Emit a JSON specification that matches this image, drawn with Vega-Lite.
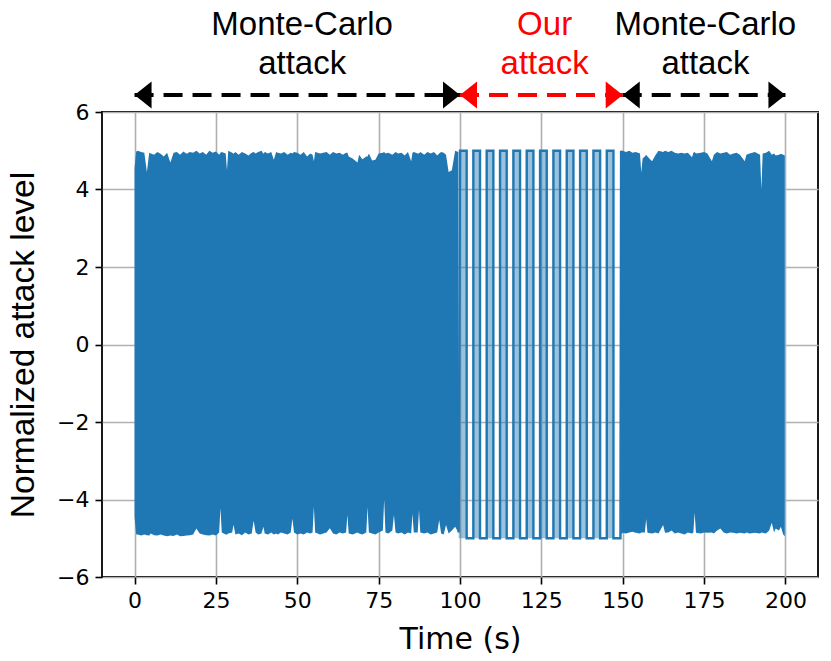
{
  "$schema": "https://vega.github.io/schema/vega-lite/v6.json",
  "width": 716,
  "height": 465,
  "autosize": {"type": "none"},
  "padding": {"left": 102, "top": 112, "right": 13, "bottom": 84},
  "background": "white",
  "config": {
    "view": {"stroke": "#000", "strokeWidth": 1.8},
    "axis": {
      "domain": false,
      "grid": true,
      "gridColor": "#b0b0b0",
      "gridWidth": 1.6,
      "tickColor": "#000",
      "tickWidth": 1.6,
      "tickSize": 7,
      "labelColor": "#000",
      "labelFont": "DejaVu Sans",
      "labelFontSize": 22,
      "labelPadding": 6,
      "titleColor": "#000",
      "titleFontWeight": "normal"
    }
  },
  "datasets": {
    "noise": [
      {"seg": "a", "t": 0, "hi": 4.55, "lo": -4.45},
      {"seg": "a", "t": 0.5, "hi": 4.98, "lo": -4.9},
      {"seg": "a", "t": 1, "hi": 5.0, "lo": -4.9},
      {"seg": "a", "t": 2, "hi": 4.97, "lo": -4.93},
      {"seg": "a", "t": 3, "hi": 4.95, "lo": -4.9},
      {"seg": "a", "t": 3.8, "hi": 4.45, "lo": -4.92},
      {"seg": "a", "t": 4.5, "hi": 4.95, "lo": -4.93},
      {"seg": "a", "t": 5, "hi": 4.93, "lo": -4.88},
      {"seg": "a", "t": 6, "hi": 4.9, "lo": -4.92},
      {"seg": "a", "t": 7, "hi": 4.97, "lo": -4.93},
      {"seg": "a", "t": 8, "hi": 4.92, "lo": -4.9},
      {"seg": "a", "t": 9, "hi": 4.85, "lo": -4.93},
      {"seg": "a", "t": 10, "hi": 4.95, "lo": -4.95},
      {"seg": "a", "t": 11, "hi": 4.7, "lo": -4.93},
      {"seg": "a", "t": 12, "hi": 4.95, "lo": -4.94},
      {"seg": "a", "t": 13, "hi": 4.97, "lo": -4.9},
      {"seg": "a", "t": 14, "hi": 4.9, "lo": -4.95},
      {"seg": "a", "t": 15, "hi": 4.98, "lo": -4.94},
      {"seg": "a", "t": 16, "hi": 4.92, "lo": -4.93},
      {"seg": "a", "t": 17, "hi": 4.97, "lo": -4.92},
      {"seg": "a", "t": 18, "hi": 4.95, "lo": -4.9},
      {"seg": "a", "t": 19, "hi": 5.0, "lo": -4.75},
      {"seg": "a", "t": 20, "hi": 4.93, "lo": -4.88},
      {"seg": "a", "t": 21, "hi": 4.97, "lo": -4.9},
      {"seg": "a", "t": 22, "hi": 4.9, "lo": -4.92},
      {"seg": "a", "t": 23, "hi": 5.0, "lo": -4.93},
      {"seg": "a", "t": 24, "hi": 4.95, "lo": -4.9},
      {"seg": "a", "t": 25, "hi": 4.98, "lo": -4.93},
      {"seg": "a", "t": 26, "hi": 4.9, "lo": -4.85},
      {"seg": "a", "t": 26.4, "hi": 4.95, "lo": -4.22},
      {"seg": "a", "t": 26.8, "hi": 4.97, "lo": -4.85},
      {"seg": "a", "t": 28, "hi": 4.93, "lo": -4.9},
      {"seg": "a", "t": 28.4, "hi": 4.5, "lo": -4.9},
      {"seg": "a", "t": 28.8, "hi": 5.0, "lo": -4.88},
      {"seg": "a", "t": 30, "hi": 4.95, "lo": -4.85},
      {"seg": "a", "t": 30.4, "hi": 4.92, "lo": -4.65},
      {"seg": "a", "t": 31, "hi": 4.97, "lo": -4.9},
      {"seg": "a", "t": 32, "hi": 4.9, "lo": -4.88},
      {"seg": "a", "t": 33, "hi": 4.97, "lo": -4.92},
      {"seg": "a", "t": 34, "hi": 4.93, "lo": -4.85},
      {"seg": "a", "t": 35, "hi": 4.88, "lo": -4.9},
      {"seg": "a", "t": 36, "hi": 4.95, "lo": -4.88},
      {"seg": "a", "t": 36.6, "hi": 4.97, "lo": -4.55},
      {"seg": "a", "t": 37.2, "hi": 4.93, "lo": -4.85},
      {"seg": "a", "t": 38, "hi": 4.97, "lo": -4.9},
      {"seg": "a", "t": 39, "hi": 5.0, "lo": -4.88},
      {"seg": "a", "t": 39.6, "hi": 4.92, "lo": -4.7},
      {"seg": "a", "t": 40, "hi": 4.97, "lo": -4.88},
      {"seg": "a", "t": 41, "hi": 4.93, "lo": -4.9},
      {"seg": "a", "t": 42, "hi": 4.97, "lo": -4.85},
      {"seg": "a", "t": 42.8, "hi": 4.77, "lo": -4.9},
      {"seg": "a", "t": 43.5, "hi": 4.97, "lo": -4.88},
      {"seg": "a", "t": 44, "hi": 4.95, "lo": -4.9},
      {"seg": "a", "t": 45, "hi": 4.93, "lo": -4.85},
      {"seg": "a", "t": 46, "hi": 4.97, "lo": -4.88},
      {"seg": "a", "t": 47, "hi": 4.9, "lo": -4.9},
      {"seg": "a", "t": 48, "hi": 4.95, "lo": -4.85},
      {"seg": "a", "t": 48.5, "hi": 4.93, "lo": -4.49},
      {"seg": "a", "t": 49, "hi": 4.97, "lo": -4.85},
      {"seg": "a", "t": 50, "hi": 4.95, "lo": -4.9},
      {"seg": "a", "t": 51, "hi": 4.9, "lo": -4.88},
      {"seg": "a", "t": 52, "hi": 4.97, "lo": -4.9},
      {"seg": "a", "t": 53, "hi": 4.85, "lo": -4.85},
      {"seg": "a", "t": 54, "hi": 4.93, "lo": -4.88},
      {"seg": "a", "t": 54.7, "hi": 4.9, "lo": -4.85},
      {"seg": "a", "t": 55.1, "hi": 4.73, "lo": -4.19},
      {"seg": "a", "t": 55.5, "hi": 4.97, "lo": -4.85},
      {"seg": "a", "t": 57, "hi": 4.93, "lo": -4.9},
      {"seg": "a", "t": 58, "hi": 4.95, "lo": -4.88},
      {"seg": "a", "t": 59, "hi": 4.97, "lo": -4.85},
      {"seg": "a", "t": 60, "hi": 4.9, "lo": -4.74},
      {"seg": "a", "t": 61, "hi": 4.97, "lo": -4.88},
      {"seg": "a", "t": 62, "hi": 4.93, "lo": -4.9},
      {"seg": "a", "t": 63, "hi": 4.95, "lo": -4.85},
      {"seg": "a", "t": 64, "hi": 4.9, "lo": -4.88},
      {"seg": "a", "t": 65, "hi": 4.95, "lo": -4.85},
      {"seg": "a", "t": 65.4, "hi": 4.95, "lo": -4.4},
      {"seg": "a", "t": 65.8, "hi": 4.85, "lo": -4.88},
      {"seg": "a", "t": 67, "hi": 4.8, "lo": -4.9},
      {"seg": "a", "t": 68.5, "hi": 4.7, "lo": -4.85},
      {"seg": "a", "t": 69, "hi": 4.9, "lo": -4.88},
      {"seg": "a", "t": 70, "hi": 4.78, "lo": -4.9},
      {"seg": "a", "t": 71.2, "hi": 4.85, "lo": -4.85},
      {"seg": "a", "t": 71.6, "hi": 4.85, "lo": -4.2},
      {"seg": "a", "t": 72, "hi": 4.93, "lo": -4.85},
      {"seg": "a", "t": 73, "hi": 4.75, "lo": -4.88},
      {"seg": "a", "t": 74, "hi": 4.77, "lo": -4.9},
      {"seg": "a", "t": 75, "hi": 4.93, "lo": -4.85},
      {"seg": "a", "t": 76.3, "hi": 4.95, "lo": -4.8},
      {"seg": "a", "t": 76.7, "hi": 4.97, "lo": -4.0},
      {"seg": "a", "t": 77.1, "hi": 4.93, "lo": -4.85},
      {"seg": "a", "t": 78, "hi": 4.95, "lo": -4.88},
      {"seg": "a", "t": 79.2, "hi": 4.9, "lo": -4.8},
      {"seg": "a", "t": 79.7, "hi": 4.93, "lo": -4.4},
      {"seg": "a", "t": 80.2, "hi": 4.97, "lo": -4.85},
      {"seg": "a", "t": 81, "hi": 4.93, "lo": -4.88},
      {"seg": "a", "t": 82, "hi": 4.95, "lo": -4.85},
      {"seg": "a", "t": 83, "hi": 4.88, "lo": -4.9},
      {"seg": "a", "t": 84, "hi": 4.97, "lo": -4.85},
      {"seg": "a", "t": 85, "hi": 4.73, "lo": -4.88},
      {"seg": "a", "t": 85.4, "hi": 4.95, "lo": -4.37},
      {"seg": "a", "t": 85.8, "hi": 4.97, "lo": -4.85},
      {"seg": "a", "t": 87, "hi": 4.93, "lo": -4.85},
      {"seg": "a", "t": 87.4, "hi": 4.93, "lo": -4.27},
      {"seg": "a", "t": 87.8, "hi": 4.97, "lo": -4.85},
      {"seg": "a", "t": 89, "hi": 4.9, "lo": -4.88},
      {"seg": "a", "t": 90, "hi": 4.97, "lo": -4.85},
      {"seg": "a", "t": 91, "hi": 4.93, "lo": -4.9},
      {"seg": "a", "t": 92, "hi": 4.97, "lo": -4.88},
      {"seg": "a", "t": 93, "hi": 4.88, "lo": -4.85},
      {"seg": "a", "t": 93.6, "hi": 4.93, "lo": -4.53},
      {"seg": "a", "t": 94.2, "hi": 4.97, "lo": -4.88},
      {"seg": "a", "t": 95, "hi": 4.95, "lo": -4.9},
      {"seg": "a", "t": 95.7, "hi": 4.9, "lo": -4.66},
      {"seg": "a", "t": 96.5, "hi": 4.45, "lo": -4.88},
      {"seg": "a", "t": 97.5, "hi": 4.5, "lo": -4.8},
      {"seg": "a", "t": 98.5, "hi": 5.0, "lo": -4.7},
      {"seg": "a", "t": 99.5, "hi": 4.97, "lo": -4.85},
      {"seg": "b", "t": 149.5, "hi": 5.0, "lo": -4.9},
      {"seg": "b", "t": 150, "hi": 5.0, "lo": -4.86},
      {"seg": "b", "t": 151, "hi": 4.97, "lo": -4.88},
      {"seg": "b", "t": 152, "hi": 5.0, "lo": -4.85},
      {"seg": "b", "t": 153, "hi": 4.95, "lo": -4.83},
      {"seg": "b", "t": 154, "hi": 4.97, "lo": -4.86},
      {"seg": "b", "t": 155.3, "hi": 4.93, "lo": -4.88},
      {"seg": "b", "t": 155.7, "hi": 4.43, "lo": -4.85},
      {"seg": "b", "t": 156.1, "hi": 4.8, "lo": -4.85},
      {"seg": "b", "t": 156.8, "hi": 4.85, "lo": -4.85},
      {"seg": "b", "t": 157.2, "hi": 4.9, "lo": -4.5},
      {"seg": "b", "t": 157.6, "hi": 4.85, "lo": -4.86},
      {"seg": "b", "t": 159, "hi": 4.73, "lo": -4.88},
      {"seg": "b", "t": 160, "hi": 4.88, "lo": -4.85},
      {"seg": "b", "t": 161, "hi": 5.0, "lo": -4.88},
      {"seg": "b", "t": 162.4, "hi": 4.97, "lo": -4.66},
      {"seg": "b", "t": 163, "hi": 5.0, "lo": -4.86},
      {"seg": "b", "t": 164, "hi": 4.97, "lo": -4.85},
      {"seg": "b", "t": 165, "hi": 5.0, "lo": -4.8},
      {"seg": "b", "t": 166, "hi": 4.95, "lo": -4.88},
      {"seg": "b", "t": 167, "hi": 4.93, "lo": -4.85},
      {"seg": "b", "t": 168, "hi": 4.95, "lo": -4.88},
      {"seg": "b", "t": 169, "hi": 4.93, "lo": -4.9},
      {"seg": "b", "t": 170, "hi": 4.95, "lo": -4.85},
      {"seg": "b", "t": 171.3, "hi": 4.83, "lo": -4.88},
      {"seg": "b", "t": 171.7, "hi": 4.95, "lo": -4.85},
      {"seg": "b", "t": 172.1, "hi": 4.97, "lo": -4.34},
      {"seg": "b", "t": 172.5, "hi": 4.93, "lo": -4.86},
      {"seg": "b", "t": 174, "hi": 4.95, "lo": -4.88},
      {"seg": "b", "t": 175, "hi": 4.97, "lo": -4.85},
      {"seg": "b", "t": 176, "hi": 4.93, "lo": -4.86},
      {"seg": "b", "t": 177.4, "hi": 4.73, "lo": -4.85},
      {"seg": "b", "t": 178, "hi": 4.9, "lo": -4.88},
      {"seg": "b", "t": 179, "hi": 4.97, "lo": -4.8},
      {"seg": "b", "t": 180, "hi": 4.93, "lo": -4.75},
      {"seg": "b", "t": 181, "hi": 4.95, "lo": -4.85},
      {"seg": "b", "t": 182, "hi": 4.97, "lo": -4.88},
      {"seg": "b", "t": 183, "hi": 4.9, "lo": -4.85},
      {"seg": "b", "t": 184, "hi": 4.93, "lo": -4.86},
      {"seg": "b", "t": 185, "hi": 4.95, "lo": -4.88},
      {"seg": "b", "t": 186, "hi": 4.9, "lo": -4.86},
      {"seg": "b", "t": 187.5, "hi": 4.73, "lo": -4.88},
      {"seg": "b", "t": 188, "hi": 4.9, "lo": -4.85},
      {"seg": "b", "t": 189, "hi": 4.93, "lo": -4.88},
      {"seg": "b", "t": 190.6, "hi": 4.97, "lo": -4.86},
      {"seg": "b", "t": 192.2, "hi": 4.9, "lo": -4.88},
      {"seg": "b", "t": 192.6, "hi": 4.0, "lo": -4.85},
      {"seg": "b", "t": 193, "hi": 4.93, "lo": -4.86},
      {"seg": "b", "t": 194, "hi": 4.95, "lo": -4.88},
      {"seg": "b", "t": 195, "hi": 5.0, "lo": -4.8},
      {"seg": "b", "t": 195.8, "hi": 4.9, "lo": -4.6},
      {"seg": "b", "t": 196.5, "hi": 4.93, "lo": -4.85},
      {"seg": "b", "t": 197, "hi": 4.88, "lo": -4.75},
      {"seg": "b", "t": 198, "hi": 4.9, "lo": -4.8},
      {"seg": "b", "t": 198.6, "hi": 4.92, "lo": -4.7},
      {"seg": "b", "t": 199.3, "hi": 4.9, "lo": -4.9},
      {"seg": "b", "t": 199.8, "hi": 4.88, "lo": -4.95}
    ],
    "square": [
      {"t": 99.6, "v": -4.85},
      {"t": 100.0, "v": 5}, {"t": 102.05, "v": 5}, {"t": 102.05, "v": -5}, {"t": 104.1, "v": -5},
      {"t": 104.1, "v": 5}, {"t": 106.15, "v": 5}, {"t": 106.15, "v": -5}, {"t": 108.2, "v": -5},
      {"t": 108.2, "v": 5}, {"t": 110.25, "v": 5}, {"t": 110.25, "v": -5}, {"t": 112.3, "v": -5},
      {"t": 112.3, "v": 5}, {"t": 114.35, "v": 5}, {"t": 114.35, "v": -5}, {"t": 116.4, "v": -5},
      {"t": 116.4, "v": 5}, {"t": 118.45, "v": 5}, {"t": 118.45, "v": -5}, {"t": 120.5, "v": -5},
      {"t": 120.5, "v": 5}, {"t": 122.55, "v": 5}, {"t": 122.55, "v": -5}, {"t": 124.6, "v": -5},
      {"t": 124.6, "v": 5}, {"t": 126.65, "v": 5}, {"t": 126.65, "v": -5}, {"t": 128.7, "v": -5},
      {"t": 128.7, "v": 5}, {"t": 130.75, "v": 5}, {"t": 130.75, "v": -5}, {"t": 132.8, "v": -5},
      {"t": 132.8, "v": 5}, {"t": 134.85, "v": 5}, {"t": 134.85, "v": -5}, {"t": 136.9, "v": -5},
      {"t": 136.9, "v": 5}, {"t": 138.95, "v": 5}, {"t": 138.95, "v": -5}, {"t": 141.0, "v": -5},
      {"t": 141.0, "v": 5}, {"t": 143.05, "v": 5}, {"t": 143.05, "v": -5}, {"t": 145.1, "v": -5},
      {"t": 145.1, "v": 5}, {"t": 147.15, "v": 5}, {"t": 147.15, "v": -5}, {"t": 149.3, "v": -5},
      {"t": 149.5, "v": 5}
    ],
    "arrows": [
      {"x1": 0, "x2": 100, "y": 6.44, "kind": "mc"},
      {"x1": 100, "x2": 150, "y": 6.44, "kind": "ours"},
      {"x1": 150, "x2": 200, "y": 6.44, "kind": "mc"}
    ],
    "heads": [
      {"t": 0, "y": 6.44, "dir": "left", "kind": "mc"},
      {"t": 100, "y": 6.44, "dir": "right", "kind": "mc"},
      {"t": 100, "y": 6.44, "dir": "left", "kind": "ours"},
      {"t": 150, "y": 6.44, "dir": "right", "kind": "ours"},
      {"t": 150, "y": 6.44, "dir": "left", "kind": "mc"},
      {"t": 200, "y": 6.44, "dir": "right", "kind": "mc"}
    ],
    "labels": [
      {"t": 51.5, "y": 8.0, "text": "Monte-Carlo\nattack", "kind": "mc"},
      {"t": 126, "y": 8.0, "text": "Our\nattack", "kind": "ours"},
      {"t": 175.4, "y": 8.0, "text": "Monte-Carlo\nattack", "kind": "mc"}
    ]
  },
  "layer": [
    {
      "data": {"name": "noise"},
      "mark": {"type": "area", "color": "#1f77b4", "opacity": 1},
      "encoding": {
        "x": {
          "field": "t", "type": "quantitative",
          "scale": {"domain": [-10, 210], "nice": false, "zero": false},
          "axis": {
            "values": [0, 25, 50, 75, 100, 125, 150, 175, 200],
            "title": "Time (s)",
            "titleFont": "DejaVu Sans",
            "titleFontSize": 30,
            "titlePadding": 13
          }
        },
        "y": {
          "field": "hi", "type": "quantitative",
          "scale": {"domain": [-6, 6], "nice": false, "zero": false},
          "axis": {
            "values": [-6, -4, -2, 0, 2, 4, 6],
            "title": "Normalized attack level",
            "titleFont": "Liberation Sans",
            "titleFontSize": 33.5,
            "titlePadding": 16
          }
        },
        "y2": {"field": "lo"},
        "detail": {"field": "seg"},
        "order": {"value": null}
      }
    },
    {
      "data": {"name": "square"},
      "mark": {"type": "area", "color": "#1f77b4", "opacity": 0.45},
      "encoding": {
        "x": {"field": "t", "type": "quantitative"},
        "y": {"field": "v", "type": "quantitative"},
        "y2": {"datum": -5},
        "order": {"value": null}
      }
    },
    {
      "data": {"name": "square"},
      "mark": {"type": "line", "color": "#1f77b4", "strokeWidth": 2.4},
      "encoding": {
        "x": {"field": "t", "type": "quantitative"},
        "y": {"field": "v", "type": "quantitative"},
        "order": {"value": null}
      }
    },
    {
      "data": {"name": "arrows"},
      "mark": {"type": "rule", "strokeWidth": 4, "strokeDash": [19, 10]},
      "encoding": {
        "x": {"field": "x1", "type": "quantitative"},
        "x2": {"field": "x2"},
        "y": {"field": "y", "type": "quantitative"},
        "color": {"field": "kind", "type": "nominal", "scale": {"domain": ["mc", "ours"], "range": ["#000000", "#ff0000"]}, "legend": null}
      }
    },
    {
      "data": {"name": "heads"},
      "transform": [{"filter": "datum.dir == 'right'"}],
      "mark": {"type": "point", "shape": "M0,0L-1.26,-1L-1.26,1Z", "size": 729, "filled": true, "opacity": 1, "strokeWidth": 0},
      "encoding": {
        "x": {"field": "t", "type": "quantitative"},
        "y": {"field": "y", "type": "quantitative"},
        "color": {"field": "kind", "type": "nominal", "scale": {"domain": ["mc", "ours"], "range": ["#000000", "#ff0000"]}, "legend": null}
      }
    },
    {
      "data": {"name": "heads"},
      "transform": [{"filter": "datum.dir == 'left'"}],
      "mark": {"type": "point", "shape": "M0,0L1.26,-1L1.26,1Z", "size": 729, "filled": true, "opacity": 1, "strokeWidth": 0},
      "encoding": {
        "x": {"field": "t", "type": "quantitative"},
        "y": {"field": "y", "type": "quantitative"},
        "color": {"field": "kind", "type": "nominal", "scale": {"domain": ["mc", "ours"], "range": ["#000000", "#ff0000"]}, "legend": null}
      }
    },
    {
      "data": {"name": "labels"},
      "mark": {"type": "text", "font": "Liberation Sans", "fontSize": 33, "lineBreak": "\n", "lineHeight": 39, "baseline": "alphabetic", "align": "center"},
      "encoding": {
        "x": {"field": "t", "type": "quantitative"},
        "y": {"field": "y", "type": "quantitative"},
        "text": {"field": "text"},
        "color": {"field": "kind", "type": "nominal", "scale": {"domain": ["mc", "ours"], "range": ["#000000", "#ff0000"]}, "legend": null}
      }
    }
  ]
}
